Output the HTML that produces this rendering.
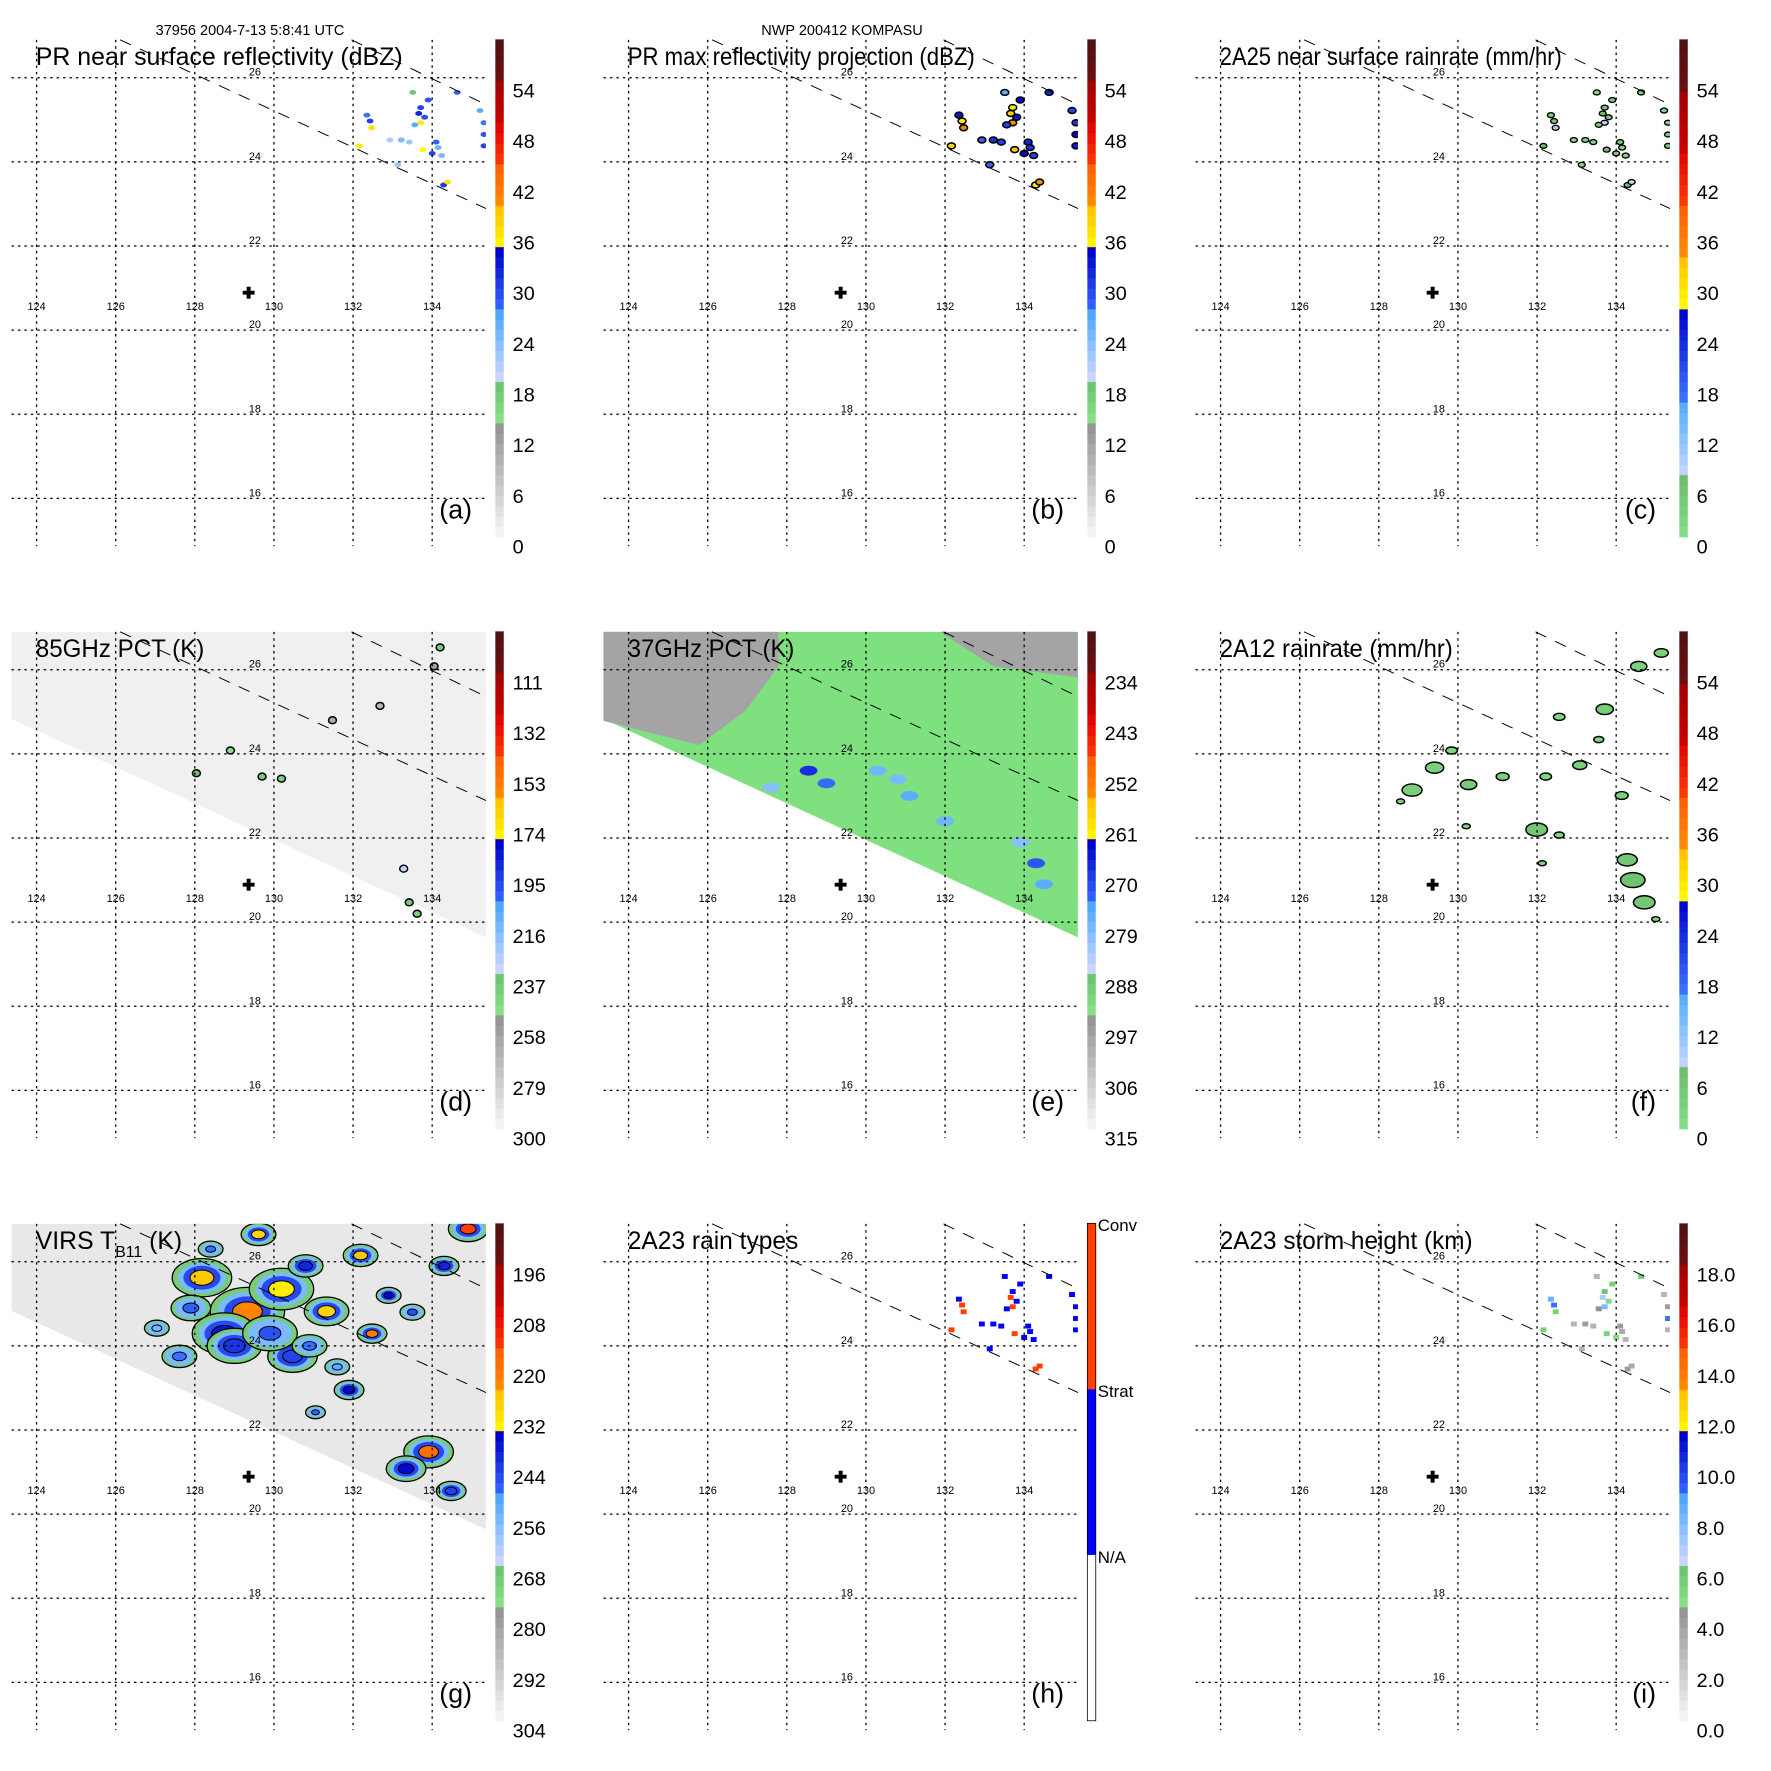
<!DOCTYPE html>
<html><head><meta charset="utf-8"><style>
html,body{margin:0;padding:0;background:#fff}
svg{display:block;font-family:"Liberation Sans",Arial,sans-serif}
</style></head><body>
<svg id="fig" xmlns="http://www.w3.org/2000/svg" width="1771" height="1771" viewBox="0 0 1771 1771"></svg>
<script>
// ---------- data ----------
const gridLons=[124,126,128,130,132,134];
const gridLats=[26,24,22,20,18,16];
const centerLon=129.36, centerLat=20.89;
const swathUpperLon=[131.96,135.36], swathUpperLat=[26.90,25.36];
const swathLowerLon=[126.11,135.36], swathLowerLat=[26.90,22.89];
// PR pixels
const prLon=[134.63,133.71,133.66,133.81,133.71,133.56,132.35,132.43,132.47,134.10,134.15,134.00,133.42,133.22,132.93,132.16,134.29,134.39,135.31,135.31,135.31,135.21,133.76,134.24,133.13,133.90,133.51];
const prLat=[25.65,25.29,25.15,25.06,24.93,24.88,25.11,24.97,24.81,24.47,24.34,24.20,24.47,24.52,24.52,24.38,23.45,23.52,24.65,24.38,24.93,25.22,24.29,24.15,23.93,25.47,25.65];
const prDbz=[28,30,32,29,36,26,27,30,37,28,25,30,22,24,21,36,31,37,29,30,27,26,35,24,22,29,18];
const prMax=[32,35,38,33,40,30,33,36,41,32,31,34,30,31,28,38,36,40,34,33,31,30,39,30,28,34,26];
const prRate=[3,5,6,4,8,3,3,5,9,3,2,4,2,2,1,7,5,8,4,4,3,2,6,2,1,4,1];
const prType=[1,1,2,1,2,1,1,2,2,1,1,1,1,1,1,2,2,2,1,1,1,1,2,1,1,1,1];
const prHeight=[5.5,6,7,5,8,4.5,8.5,9,5.5,4,3.5,5,3,4,3,5.5,4,3.5,9,3,4,3,5.5,3,3,5.5,3];
// 85 GHz scattering spots
const p85Lon=[128.04,128.90,129.70,130.19,131.48,132.68,133.28,133.42,133.62,134.20,134.05];
const p85Lat=[23.54,24.08,23.46,23.41,24.80,25.14,21.27,20.47,20.20,26.53,26.08];
const p85Val=[235,250,240,245,265,270,230,238,242,240,260];
// 37 GHz
const p37GreyLon=[123.3,127.79,127.79,126.94,125.79,124.64,123.3];
const p37GreyLat=[26.94,26.94,26.08,25.01,24.21,24.48,24.8];
const p37Grey2Lon=[131.8,135.4,135.4,133.23];
const p37Grey2Lat=[26.94,26.94,25.81,26.08];
const p37BlueLon=[128.55,129.0,130.3,131.1,132.0,134.3,134.5,133.9,130.8,127.6];
const p37BlueLat=[23.6,23.3,23.6,23.0,22.4,21.4,20.9,21.9,23.4,23.2];
const p37BlueVal=[268,274,278,276,278,272,276,280,279,280];
// 2A12
const tmiLon=[134.57,135.14,132.56,133.71,133.56,130.27,131.13,132.22,133.08,134.14,131.99,132.56,134.28,134.42,134.71,132.13,130.21,128.84,129.41,129.84,128.55,135.0];
const tmiLat=[26.08,26.40,24.88,25.06,24.34,23.27,23.46,23.46,23.73,23.01,22.20,22.07,21.48,21.00,20.47,21.40,22.28,23.14,23.67,24.08,22.87,20.07];
const tmiRate=[3,3,2,4,2,4,3,2,3,3,5,2,5,6,5,2,2,3,3,2,2,2];
const tmiArea=[40,30,20,45,15,40,25,20,30,25,70,15,60,90,70,10,10,60,50,20,10,10];
// VIRS
const virsLon=[129.33,128.18,130.19,131.33,128.75,130.47,132.19,131.90,132.48,133.91,133.34,134.48,134.91,129.61,127.61,127.04,131.05,130.8,132.9,129.0,129.9,127.9,130.9,131.6,133.5,134.3,128.4];
const virsLat=[24.82,25.62,25.35,24.82,24.29,23.75,26.15,22.95,24.29,21.48,21.08,20.55,26.78,26.65,23.75,24.42,22.42,25.9,25.2,24.0,24.3,24.9,24.0,23.5,24.8,25.9,26.3];
const virsTb=[222,226,232,228,238,244,226,236,220,218,236,244,214,228,250,256,248,240,236,242,246,248,250,252,246,240,250];
const virsSize=[30,24,26,18,26,20,14,12,12,20,16,12,16,14,14,10,8,14,10,22,22,16,14,10,10,12,10];
// colorbar tick labels
const ticksA=["0","6","12","18","24","30","36","42","48","54"];
const ticksD=["300","279","258","237","216","195","174","153","132","111"];
const ticksE=["315","306","297","288","279","270","261","252","243","234"];
const ticksG=["304","292","280","268","256","244","232","220","208","196"];
const ticksI=["0.0","2.0","4.0","6.0","8.0","10.0","12.0","14.0","16.0","18.0"];
const ticksH=["N/A","Strat","Conv"];

// ---------- helpers ----------
const NS='http://www.w3.org/2000/svg';
const svg=document.getElementById('fig');
function mk(tag,attrs,parent){const e=document.createElementNS(NS,tag);for(const k in attrs)e.setAttribute(k,attrs[k]);(parent||svg).appendChild(e);return e;}
const X=lon=>38.8+(lon-124)*39.9;
const Y=lat=>80+(26-lat)*42.75;
const OFF=592;
function hex(c){return [parseInt(c.slice(1,3),16),parseInt(c.slice(3,5),16),parseInt(c.slice(5,7),16)];}
function lerp(a,b,t){const A=hex(a),B=hex(b);return 'rgb('+A.map((v,i)=>Math.round(v+(B[i]-v)*t)).join(',')+')';}
const schemeA=[[0,.238,'#f8f8f8','#8c8c8c'],[.238,.32,'#86e086','#6cbc6c'],[.32,.45,'#ccd8ff','#4aa8ff'],[.45,.574,'#3a70ff','#0000cc'],[.574,.66,'#ffff00','#ffc000'],[.66,.745,'#ff9000','#ff6000'],[.745,.83,'#ff4000','#e00000'],[.83,.917,'#cc0000','#a00000'],[.917,1.001,'#701010','#501010']];
const schemeC=[[0,.12,'#86e086','#6cbc6c'],[.12,.28,'#ccd8ff','#4aa8ff'],[.28,.457,'#3a70ff','#0000cc'],[.457,.56,'#ffff00','#ffc000'],[.56,.66,'#ff9000','#ff6000'],[.66,.78,'#ff4000','#e00000'],[.78,.89,'#cc0000','#a00000'],[.89,1.001,'#701010','#501010']];
function cmap(s,t){t=Math.max(0,Math.min(1,t));for(const b of s){if(t>=b[0]&&t<b[1])return lerp(b[2],b[3],(t-b[0])/(b[1]-b[0]));}return s[s.length-1][3];}

function panel(i,title,tlen,letter,ticks,scheme){
  const c=i%3,r=Math.floor(i/3);
  const g=mk('g',{transform:'translate('+(c*OFF-1.9)+','+(r*OFF-1)+') scale(0.9915,0.984)'});
  
  
  const defs=mk('defs',{},g);
  const cp=mk('clipPath',{id:'clip'+i},defs);
  mk('rect',{x:13.5,y:41.5,width:478.5,height:514.5},cp);
  const map=mk('g',{'clip-path':'url(#clip'+i+')'},g);
  
  
  const over=mk('g',{},g);
  return {g,map,over,c,r,letter,title,tlen,ticks,scheme};
}
function finish(P,hType){
  const {g,over,letter}=P;
  gridLats.forEach(la=>{const l=mk('line',{x1:13.5,x2:492,y1:Y(la),y2:Y(la),stroke:'#000','stroke-width':1.3,'stroke-dasharray':'2.5,4'},over);
    
    
    const t=mk('text',{x:259,y:Y(la)-2,'font-size':11,'text-anchor':'middle'},over);t.textContent=la;
    
    });
  gridLons.forEach(lo=>{const l=mk('line',{x1:X(lo),x2:X(lo),y1:41.5,y2:556,stroke:'#000','stroke-width':1.3,'stroke-dasharray':'2.5,4'},over);
    
    
    const t=mk('text',{x:X(lo),y:316,'font-size':11,'text-anchor':'middle'},over);t.textContent=lo;
    
    });
  [[swathUpperLon,swathUpperLat],[swathLowerLon,swathLowerLat]].forEach(s=>{
    const l=mk('line',{x1:X(s[0][0]),y1:Y(s[1][0]),x2:X(s[0][1]),y2:Y(s[1][1]),stroke:'#000','stroke-width':1,'stroke-dasharray':'12,10'},over);
    
    });
  const cx=X(centerLon),cy=Y(centerLat);
  const cr=mk('path',{d:`M${cx-6} ${cy}H${cx+6}M${cx} ${cy-6}V${cy+6}`,stroke:'#000','stroke-width':4},over);
  
  
  const t=mk('text',{x:38,y:67,'font-size':25},over);
  if(P.tlen){t.setAttribute('textLength',P.tlen);t.setAttribute('lengthAdjust','spacingAndGlyphs');}
  if(P.title==='VIRS'){t.textContent='VIRS T';const s=mk('tspan',{'font-size':16,dy:8},t);s.textContent='B11';const s2=mk('tspan',{dy:-8},t);s2.textContent=' (K)';}
  else t.textContent=P.title;
  
  
  const lt=mk('text',{x:478,y:528,'font-size':27,'text-anchor':'end'},over);lt.textContent='('+letter+')';
  
  
  const cb=mk('g',{},g);
  
  
  const top=41,bot=546.5,h=bot-top;
  if(hType){
    const parts=[['#ffffff'],['#0000ff'],['#ff4000']];
    parts.forEach((p,k)=>{const rr=mk('rect',{x:501.5,y:bot-(k+1)*h/3,width:8.5,height:h/3,fill:p[0]},cb);
      
      });
    const br=mk('rect',{x:501.5,y:top,width:8.5,height:h,fill:'none',stroke:'#000','stroke-width':0.8},cb);
    
    
    P.ticks.forEach((tk,k)=>{const tt=mk('text',{x:512,y:bot-(k+1)*h/3+8,'font-size':17},cb);tt.textContent=tk;
      
      });
  } else {
    const N=48;
    for(let k=0;k<N;k++){const rr=mk('rect',{x:501.5,y:bot-(k+1)*h/N,width:8.5,height:h/N+0.6,fill:cmap(P.scheme,(k+0.5)/N)},cb);
      
      }
    P.ticks.forEach((tk,k)=>{const tt=mk('text',{x:519,y:557.5-51.5*k,'font-size':20,'dominant-baseline':'central'},cb);tt.textContent=tk;
      
      });
  }
}
function swathPoly(map,fill){
  const p=mk('polygon',{points:'13.5,40 492,40 492,352 13.5,130',fill:fill},map);
  
  
  return p;
}

const h1=mk('text',{x:250,y:35,'font-size':14.5,'text-anchor':'middle'});h1.textContent='37956 2004-7-13 5:8:41 UTC';


const h2=mk('text',{x:OFF+250,y:35,'font-size':14.5,'text-anchor':'middle'});h2.textContent='NWP 200412 KOMPASU';



// (a)
let P=panel(0,'PR near surface reflectivity (dBZ)',370,'a',ticksA,schemeA);
prLon.forEach((lo,k)=>{const e=mk('ellipse',{cx:X(lo),cy:Y(prLat[k]),rx:3.5,ry:2.5,fill:cmap(schemeA,prDbz[k]/60)},P.map);
  
  });
finish(P);
// (b)
P=panel(1,'PR max reflectivity projection (dBZ)',350,'b',ticksA,schemeA);
prLon.forEach((lo,k)=>{const e=mk('ellipse',{cx:X(lo),cy:Y(prLat[k]),rx:4,ry:3,fill:cmap(schemeA,prMax[k]/60),stroke:'#000','stroke-width':1.6},P.map);
  
  });
finish(P);
// (c)
P=panel(2,'2A25 near surface rainrate (mm/hr)',345,'c',ticksA,schemeC);
prLon.forEach((lo,k)=>{const e=mk('ellipse',{cx:X(lo),cy:Y(prLat[k]),rx:3.5,ry:2.5,fill:cmap(schemeC,prRate[k]/60),stroke:'#000','stroke-width':1.4},P.map);
  
  });
finish(P);
// (d)
P=panel(3,'85GHz PCT (K)',170,'d',ticksD,schemeA);
swathPoly(P.map,'#f0f0f0');
p85Lon.forEach((lo,k)=>{const e=mk('ellipse',{cx:X(lo),cy:Y(p85Lat[k]),rx:4,ry:3.5,fill:cmap(schemeA,(300-p85Val[k])/210),stroke:'#000','stroke-width':1.5},P.map);
  
  });
finish(P);
// (e)
P=panel(4,'37GHz PCT (K)',168,'e',ticksE,schemeA);
swathPoly(P.map,'#7fe07f');
[[p37GreyLon,p37GreyLat],[p37Grey2Lon,p37Grey2Lat]].forEach(s=>{
  const pg=mk('polygon',{points:s[0].map((lo,k)=>X(lo)+','+Y(s[1][k])).join(' '),fill:'#a4a4a4'},P.map);
  
  });
p37BlueLon.forEach((lo,k)=>{const e=mk('ellipse',{cx:X(lo),cy:Y(p37BlueLat[k]),rx:9,ry:5,fill:cmap(schemeA,(315-p37BlueVal[k])/90)},P.map);
  
  });
finish(P);
// (f)
P=panel(5,'2A12 rainrate (mm/hr)',235,'f',ticksA,schemeC);
tmiLon.forEach((lo,k)=>{const s=Math.sqrt(tmiArea[k]);const e=mk('ellipse',{cx:X(lo),cy:Y(tmiLat[k]),rx:s*1.3,ry:s*0.8,fill:cmap(schemeC,tmiRate[k]/60),stroke:'#000','stroke-width':1.5},P.map);
  
  });
finish(P);
// (g)
P=panel(6,'VIRS',0,'g',ticksG,schemeA);
swathPoly(P.map,'#e8e8e8');
virsLon.forEach((lo,k)=>{const s=virsSize[k],cx=X(lo),cy=Y(virsLat[k]);
  const rings=[[1.25,270],[1.0,256],[0.78,245]];
  rings.forEach(rg=>{if(virsTb[k]<=rg[1]){const e=mk('ellipse',{cx:cx,cy:cy,rx:s*rg[0],ry:s*rg[0]*0.65,fill:cmap(schemeA,(304-rg[1])/120),stroke:rg[0]>1.2?'#000':'none','stroke-width':1.3},P.map);
    
    }});
  const e=mk('ellipse',{cx:cx,cy:cy,rx:s*0.5,ry:s*0.32,fill:cmap(schemeA,(304-virsTb[k])/120),stroke:'#000','stroke-width':1},P.map);
  
  });
finish(P);
// (h)
P=panel(7,'2A23 rain types',172,'h',ticksH,null);
prLon.forEach((lo,k)=>{const e=mk('rect',{x:X(lo)-3,y:Y(prLat[k])-2.5,width:6,height:5,fill:prType[k]===2?'#ff4000':'#0000ff'},P.map);
  
  });
finish(P,true);
// (i)
P=panel(8,'2A23 storm height (km)',255,'i',ticksI,schemeA);
prLon.forEach((lo,k)=>{const e=mk('rect',{x:X(lo)-3,y:Y(prLat[k])-2.5,width:6,height:5,fill:cmap(schemeA,prHeight[k]/20)},P.map);
  
  });
finish(P);
</script>
</body></html>
